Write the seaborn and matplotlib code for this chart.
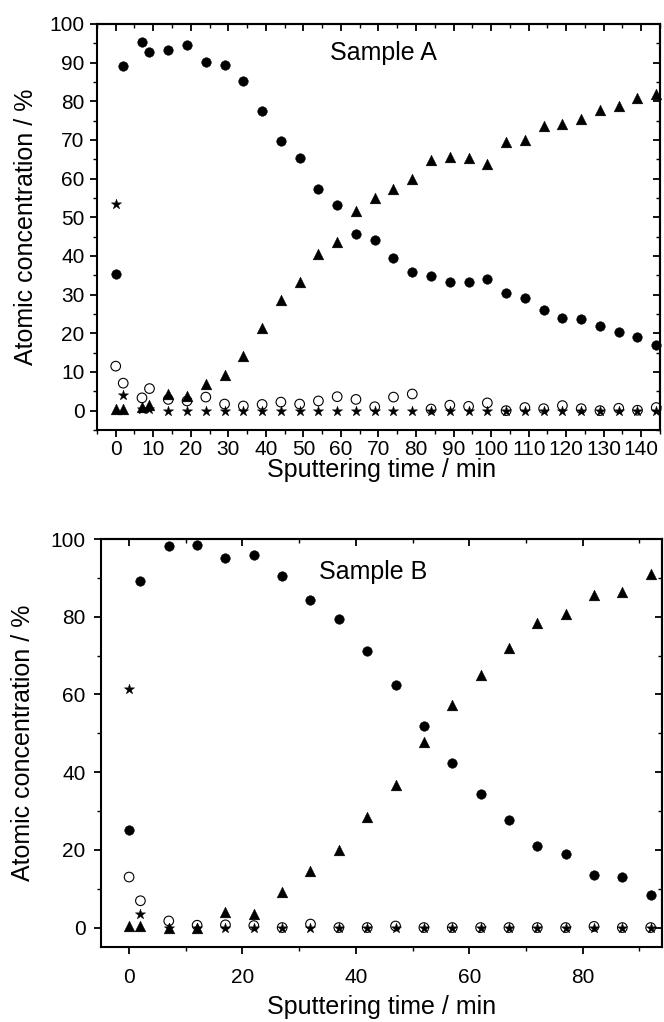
import numpy as np
import pandas as pd
import matplotlib
matplotlib.use("Agg")
import matplotlib.pyplot as plt
import seaborn as sns
from matplotlib.ticker import MultipleLocator

# Sample A depth profile
time_a = [0, 2, 7, 9, 14, 19, 24, 29, 34, 39, 44, 49, 54, 59, 64, 69, 74, 79,
          84, 89, 94, 99, 104, 109, 114, 119, 124, 129, 134, 139, 144]
circle_a = [35.3, 89.2, 95.4, 92.8, 93.2, 94.5, 90.1, 89.5, 85.2, 77.5, 69.6,
            65.3, 57.2, 53.1, 45.8, 44.0, 39.4, 35.8, 34.7, 33.2, 33.2, 34.0,
            30.5, 29.1, 25.9, 23.9, 23.6, 21.9, 20.4, 19.0, 17.0]
triangle_a = [0.3, 0.3, 1.0, 1.5, 4.3, 3.9, 7.0, 9.3, 14.1, 21.4, 28.7, 33.2,
              40.5, 43.5, 51.5, 55.0, 57.2, 59.8, 64.7, 65.5, 65.2, 63.9, 69.5,
              70.1, 73.5, 74.2, 75.5, 77.8, 78.9, 80.8, 81.9]
open_a = [11.5, 7.1, 3.3, 5.7, 2.9, 2.5, 3.5, 1.7, 1.2, 1.6, 2.2, 1.7, 2.5,
          3.6, 2.9, 1.0, 3.5, 4.3, 0.4, 1.4, 1.1, 2.0, 0.0, 0.8, 0.5, 1.3, 0.5,
          0.0, 0.6, 0.1, 0.8]
star_a = [53.4, 4.0, 0.3, 0.3, 0.0, 0.0, 0.0, 0.0, 0.0, 0.0, 0.0, 0.0, 0.0,
          0.0, 0.0, 0.0, 0.0, 0.0, 0.0, 0.0, 0.0, 0.0, 0.0, 0.0, 0.0, 0.0, 0.0,
          0.0, 0.0, 0.0, 0.0]

# Sample B depth profile
time_b = [0, 2, 7, 12, 17, 22, 27, 32, 37, 42, 47, 52, 57, 62, 67, 72, 77, 82,
          87, 92]
circle_b = [25.0, 89.3, 98.2, 98.4, 95.0, 95.8, 90.4, 84.2, 79.5, 71.1, 62.3,
            51.8, 42.3, 34.3, 27.6, 20.9, 18.9, 13.4, 13.0, 8.3]
triangle_b = [0.3, 0.3, 0.0, 0.0, 4.1, 3.6, 9.2, 14.6, 20.0, 28.4, 36.6, 47.8,
              57.2, 65.1, 72.0, 78.4, 80.7, 85.7, 86.4, 90.9]
open_b = [13.0, 6.9, 1.7, 0.6, 0.7, 0.5, 0.0, 0.9, 0.0, 0.0, 0.4, 0.0, 0.0,
          0.0, 0.0, 0.0, 0.0, 0.3, 0.0, 0.0]
star_b = [61.3, 3.5, 0.0, 0.0, 0.0, 0.0, 0.0, 0.0, 0.0, 0.0, 0.0, 0.0, 0.0,
          0.0, 0.0, 0.0, 0.0, 0.0, 0.0, 0.0]

sns.set_theme(style="ticks")
plt.rcParams["font.family"] = ["Liberation Sans", "DejaVu Sans"]
plt.rcParams["axes.linewidth"] = 1.5
plt.rcParams["text.color"] = "black"
plt.rcParams["axes.labelcolor"] = "black"
plt.rcParams["xtick.color"] = "black"
plt.rcParams["ytick.color"] = "black"

fig = plt.figure(figsize=(6.64, 10.22), dpi=100)
ax_a = fig.add_axes([0.146, 0.5793, 0.848, 0.3973])
ax_b = fig.add_axes([0.1517, 0.0734, 0.8453, 0.3992])


def draw_series(ax, t, circ, tri, opn, star, ms):
    sns.scatterplot(x=t, y=star, marker="*", s=ms["star"], color="black",
                    edgecolor="black", linewidth=0.3, ax=ax, clip_on=False, zorder=3)
    sns.scatterplot(x=t, y=tri, marker="^", s=ms["tri"], color="black",
                    edgecolor="black", linewidth=0.3, ax=ax, clip_on=False, zorder=3)
    sns.scatterplot(x=t, y=circ, marker="o", s=ms["circ"], color="black",
                    edgecolor="black", linewidth=0.3, ax=ax, clip_on=False, zorder=3)
    sns.scatterplot(x=t, y=opn, marker="o", s=ms["circ"], color="black",
                    facecolor="none", edgecolor="black", linewidth=0.8, ax=ax,
                    clip_on=False, zorder=4)


def style_axes(ax, xmaj, xmin, ymaj, ymin, xlim, pad_x, pad_y):
    ax.set_xlim(*xlim)
    ax.set_ylim(-5, 100)
    ax.xaxis.set_major_locator(MultipleLocator(xmaj))
    ax.xaxis.set_minor_locator(MultipleLocator(xmin))
    ax.yaxis.set_major_locator(MultipleLocator(ymaj))
    ax.yaxis.set_minor_locator(MultipleLocator(ymin))
    ax.tick_params(which="major", direction="out", length=5, width=1.3,
                   labelsize=15, colors="black")
    ax.tick_params(which="minor", direction="out", length=3, width=1.0)
    ax.tick_params(axis="x", which="major", pad=pad_x)
    ax.tick_params(axis="y", which="major", pad=pad_y)
    for sp in ax.spines.values():
        sp.set_visible(True)
        sp.set_linewidth(1.5)
        sp.set_color("black")
    # mirrored inward ticks on top and right
    top = ax.secondary_xaxis("top")
    top.xaxis.set_major_locator(MultipleLocator(xmaj))
    top.xaxis.set_minor_locator(MultipleLocator(xmin))
    top.tick_params(which="major", direction="in", length=5, width=1.3, labeltop=False)
    top.tick_params(which="minor", direction="in", length=3, width=1.0)
    right = ax.secondary_yaxis("right")
    right.yaxis.set_major_locator(MultipleLocator(ymaj))
    right.yaxis.set_minor_locator(MultipleLocator(ymin))
    right.tick_params(which="major", direction="in", length=5, width=1.3, labelright=False)
    right.tick_params(which="minor", direction="in", length=3, width=1.0)
    ax.set_xlabel("Sputtering time / min", fontsize=18, color="black")
    ax.set_ylabel("Atomic concentration / %", fontsize=18, color="black")
    ax.grid(False)


sizes = {"star": 60, "tri": 60, "circ": 48}
draw_series(ax_a, time_a, circle_a, triangle_a, open_a, star_a, sizes)
draw_series(ax_b, time_b, circle_b, triangle_b, open_b, star_b, sizes)

style_axes(ax_a, 10, 5, 10, 5, (-5, 145), 2, 4)
style_axes(ax_b, 20, 10, 20, 10, (-5, 94), 10, 6)

ax_a.xaxis.set_label_coords(0.506, -0.07)
ax_a.yaxis.set_label_coords(-0.105, 0.5)
ax_b.xaxis.set_label_coords(0.5, -0.118)
ax_b.yaxis.set_label_coords(-0.117, 0.5)

ax_a.text(57, 92.5, "Sample A", fontsize=18, ha="left", va="center", color="black")
ax_b.text(33.5, 91.5, "Sample B", fontsize=18, ha="left", va="center", color="black")

fig.savefig("out.png", dpi=100)
